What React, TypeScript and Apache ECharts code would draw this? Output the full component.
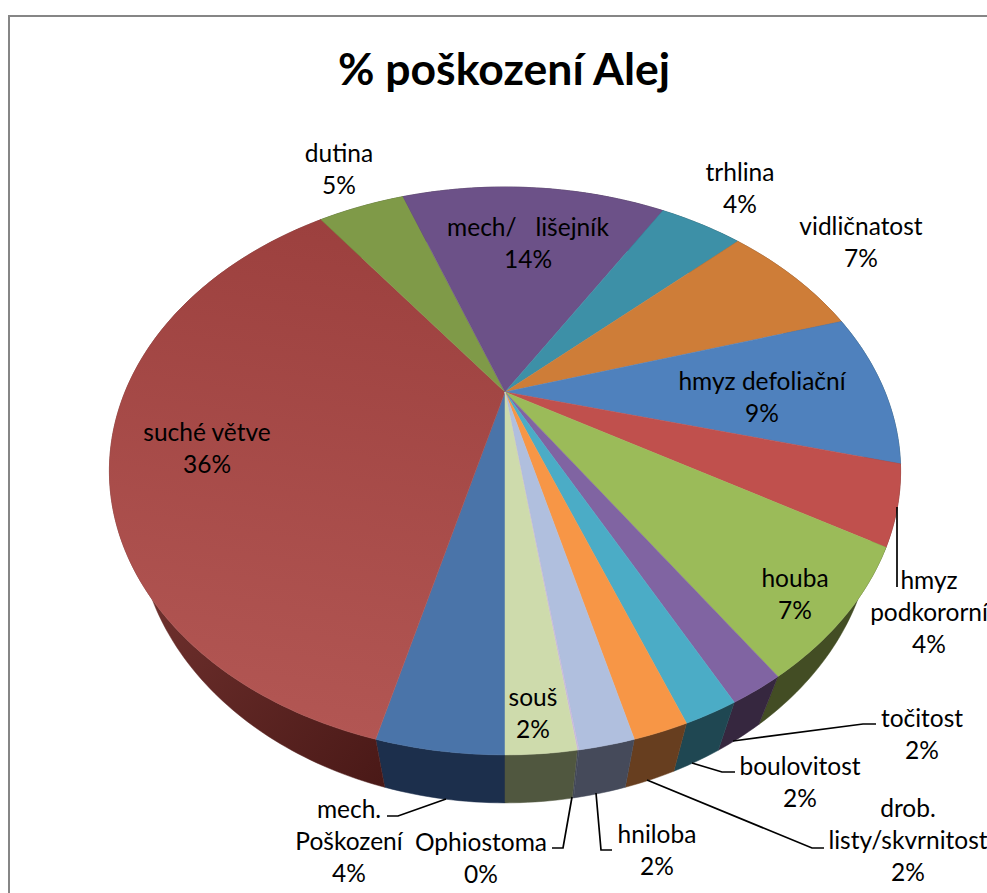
import React, { useEffect, useRef } from "react";
import * as echarts from "echarts";

const categories = ["mech. Poškození", "suché větve", "dutina", "mech/   lišejník", "trhlina", "vidličnatost", "hmyz defoliační", "hmyz podkororní", "houba", "točitost", "boulovitost", "drob. listy/skvrnitost", "hniloba", "Ophiostoma", "souš"];
const shares = [4.0, 35.9, 4.6, 14.1, 4.4, 7.3, 8.8, 4.4, 7.2, 1.8, 1.75, 1.75, 1.75, 0.05, 2.2];
const labelLines = [
  ["mech.", "Poškození"], ["suché větve"], ["dutina"], ["mech/   lišejník"], ["trhlina"], ["vidličnatost"], ["hmyz defoliační"],
  ["hmyz", "podkororní"], ["houba"], ["točitost"], ["boulovitost"], ["drob.", "listy/skvrnitost"], ["hniloba"], ["Ophiostoma"], ["souš"],
];

const topColors = ["#4A74A9", "#A94B49", "#7F9A48", "#6C5188", "#3D90A7", "#CE7D38", "#4F81BD", "#C0504D", "#9BBB59", "#8064A2", "#4BACC6", "#F79646", "#B0BFDE", "#C9B8DC", "#CEDBAC"];
const sideColors = ["#1C2F4C", "#5A2421", "#414F22", "#36273F", "#1F4752", "#673E1F", "#1F4752", "#5A2421", "#434D24", "#36273F", "#1F4752", "#673E1F", "#454A5A", "#454A5A", "#50573F"];
const labelCentres = [
  [349, 840], [207, 447], [339, 168], [528, 242], [740, 187], [861, 241], [762, 396], [929, 611], [795, 593], [922, 733], [800, 781], [908, 839], [657, 849], [481, 857], [533, 712],
];
const leaderLines = [
  [[387, 816], [398, 816], [446, 799]],
  [[552, 848], [563, 848], [572, 797]],
  [[612, 850], [601, 850], [596, 793]],
  [[824, 848], [812, 848], [647, 780]],
  [[735, 772], [722, 772], [692, 763]],
  [[876, 724], [863, 724], [733, 741]],
  [[897, 507], [897, 587]],
];

const CX = 505, CY = 392, R = 380, A = 262, K = 0.278, DEPTH = 48, BOTTOM_SCALE = 0.93;
const FONT = "Lato";

// Perspective projection of a rim point; 0 % is the front of the disc, going clockwise.
function rim(pct: number) {
  const t = (pct / 100) * Math.PI * 2;
  const u = -Math.sin(t), v = Math.cos(t), d = 1 - K * v;
  return [(R * u) / d, (A * v) / d];
}
function arcPoints(a: number, b: number, fn: (p: number[]) => number[]) {
  const n = Math.max(1, Math.ceil((b - a) / 0.25));
  const pts: number[][] = [];
  for (let i = 0; i <= n; i++) pts.push(fn(rim(a + ((b - a) * i) / n)));
  return pts;
}
const topPt = (p: number[]) => [CX + p[0], CY + p[1]];
const botPt = (p: number[]) => [CX + BOTTOM_SCALE * p[0], CY + p[1] + DEPTH];

function fillFor(i: number) {
  if (i === 1) {
    return new echarts.graphic.LinearGradient(330, 220, 250, 720, [
      { offset: 0, color: "#9C403E" },
      { offset: 1, color: "#B25653" },
    ], true);
  }
  return topColors[i];
}
function sideFillFor(i: number) {
  if (i === 1) {
    return new echarts.graphic.LinearGradient(150, 600, 385, 780, [
      { offset: 0, color: "#6E302D" },
      { offset: 1, color: "#4A1917" },
    ], true);
  }
  return sideColors[i];
}

export default function App() {
  const ref = useRef<HTMLDivElement>(null);
  useEffect(() => {
    if (!ref.current) return;
    const chart = echarts.init(ref.current, undefined, { renderer: "svg" });
    let acc = 0;
    const spans = shares.map((v, i) => {
      const s = [acc, acc + v, i];
      acc += v;
      return s;
    });
    const labelGraphics = categories.map((_, i) => ({
      type: "text",
      x: labelCentres[i][0],
      y: labelCentres[i][1],
      silent: true,
      z: 20,
      style: {
        text: [...labelLines[i], `${Math.round(shares[i])}%`].join("\n"),
        fontFamily: FONT,
        fontSize: 24.5,
        lineHeight: 32,
        fill: "#000",
        align: "center",
        verticalAlign: "middle",
      },
    }));
    const lineGraphics = leaderLines.map((points) => ({
      type: "polyline",
      silent: true,
      z: 15,
      shape: { points },
      style: { stroke: "#000", lineWidth: 1.7, fill: "none" },
    }));
    chart.setOption({
      animation: false,
      backgroundColor: "#fff",
      title: {
        text: "% poškození Alej",
        left: 499,
        top: 40,
        textAlign: "center",
        textStyle: { fontFamily: FONT, fontSize: 44.5, fontWeight: "bold", color: "#000" },
      },
      series: [
        {
          type: "custom",
          coordinateSystem: "none",
          silent: true,
          z: 2,
          data: spans,
          renderItem: (_: any, api: any) => {
            const a = api.value(0), b = api.value(1), i = api.value(2);
            const points = [...arcPoints(a, b, topPt), ...arcPoints(a, b, botPt).reverse()];
            const fill = sideFillFor(i);
            return { type: "polygon", shape: { points }, style: { fill, stroke: fill, lineWidth: 0.5 } };
          },
        },
        {
          type: "custom",
          coordinateSystem: "none",
          silent: true,
          z: 3,
          data: spans,
          renderItem: (_: any, api: any) => {
            const a = api.value(0), b = api.value(1), i = api.value(2);
            const points = [[CX, CY], ...arcPoints(a, b, topPt)];
            const fill = fillFor(i);
            return { type: "polygon", shape: { points }, style: { fill, stroke: fill, lineWidth: 0.5 } };
          },
        },
      ],
      graphic: [
        {
          type: "rect",
          silent: true,
          z: 1,
          shape: { x: 9, y: 16, width: 1200, height: 1200 },
          style: { fill: "none", stroke: "#868686", lineWidth: 2 },
        },
        ...lineGraphics,
        ...labelGraphics,
      ],
    });
    return () => chart.dispose();
  }, []);
  return <div ref={ref} style={{ position: "absolute", left: 0, top: 0, width: 987, height: 893, overflow: "hidden" }} />;
}
